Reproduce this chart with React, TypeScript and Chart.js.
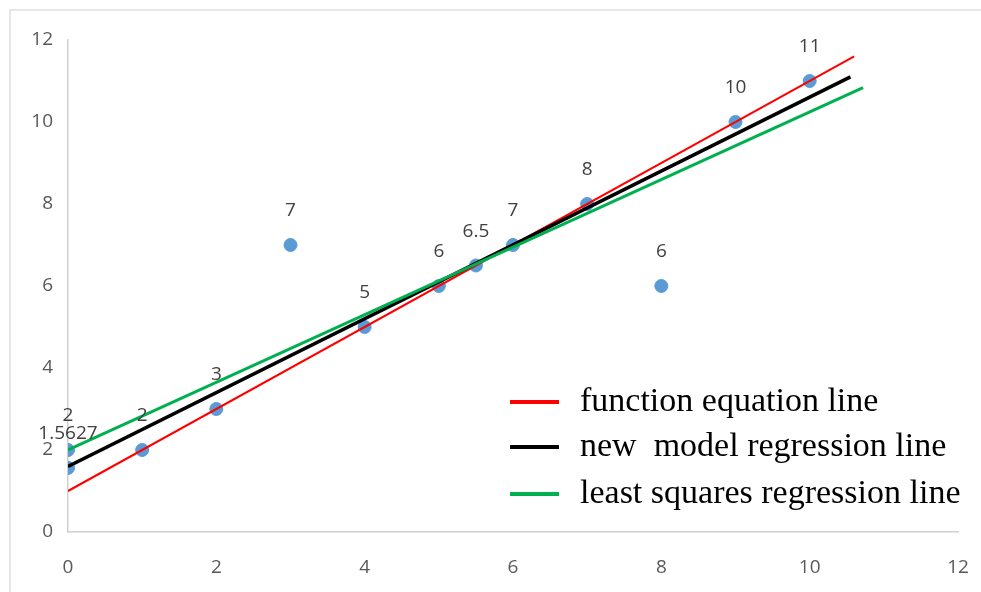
import React, { useEffect, useRef } from "react";
import { Chart, registerables } from "chart.js";

Chart.register(...registerables);

// ---- data ----
const pointX = [0, 0, 1, 2, 3, 4, 5, 5.5, 6, 7, 8, 9, 10];
const pointY = [2, 1.5627, 2, 3, 7, 5, 6, 6.5, 7, 8, 6, 10, 11];
const pointLabels = ["2", "1.5627", "2", "3", "7", "5", "6", "6.5", "7", "8", "6", "10", "11"];

const lineNames = ["function equation line", "new  model regression line", "least squares regression line"];
const redX = [0, 10.6];
const redY = [1.0, 11.6];
const blackX = [0, 10.55];
const blackY = [1.6, 11.1];
const greenX = [0, 10.72];
const greenY = [2.0, 10.84];

const xTicks = [0, 2, 4, 6, 8, 10, 12];
const yTicks = [0, 2, 4, 6, 8, 10, 12];

// ---- styles ----
const STYLE = {
  point: "#5B9BD5",
  red: "#FF0000",
  black: "#000000",
  green: "#00B050",
  tick: "#595959",
  label: "#404040",
  axis: "#D0D0D0",
};

const toPts = (xs: number[], ys: number[]) => xs.map((x, i) => ({ x, y: ys[i] }));

const dataLabelPlugin = {
  id: "dataLabels",
  afterDatasetsDraw(chart: any) {
    const meta = chart.getDatasetMeta(3);
    const ctx = chart.ctx;
    ctx.save();
    ctx.font = "19px 'Open Sans'";
    ctx.fillStyle = STYLE.label;
    ctx.textAlign = "center";
    ctx.textBaseline = "middle";
    meta.data.forEach((el: any, i: number) => {
      ctx.fillText(pointLabels[i], el.x, el.y - 34);
    });
    ctx.restore();
  },
};

const legendPlugin = {
  id: "customLegend",
  afterDraw(chart: any) {
    const ctx = chart.ctx;
    const colors = [STYLE.red, STYLE.black, STYLE.green];
    const x0 = 510;
    const rows = [402, 447, 494];
    ctx.save();
    ctx.font = "34px 'Liberation Serif'";
    ctx.fillStyle = "#000000";
    ctx.textAlign = "left";
    ctx.textBaseline = "middle";
    rows.forEach((y, i) => {
      ctx.strokeStyle = colors[i];
      ctx.lineWidth = 4;
      ctx.beginPath();
      ctx.moveTo(x0, y);
      ctx.lineTo(x0 + 49, y);
      ctx.stroke();
      ctx.fillText(lineNames[i], 580, y);
    });
    ctx.restore();
  },
};

export default function App() {
  const ref = useRef<HTMLCanvasElement>(null);
  useEffect(() => {
    if (!ref.current) return;
    const chart = new Chart(ref.current, {
      type: "scatter",
      data: {
        datasets: [
          {
            type: "line",
            label: lineNames[2],
            data: toPts(greenX, greenY),
            borderColor: STYLE.green,
            borderWidth: 3,
            pointRadius: 0,
            fill: false,
            order: 0,
          } as any,
          {
            type: "line",
            label: lineNames[1],
            data: toPts(blackX, blackY),
            borderColor: STYLE.black,
            borderWidth: 3.5,
            pointRadius: 0,
            fill: false,
            order: 1,
          } as any,
          {
            type: "line",
            label: lineNames[0],
            data: toPts(redX, redY),
            borderColor: STYLE.red,
            borderWidth: 2,
            pointRadius: 0,
            fill: false,
            order: 2,
          } as any,
          {
            label: "points",
            data: toPts(pointX, pointY),
            backgroundColor: STYLE.point,
            borderColor: STYLE.point,
            pointRadius: 6.5,
            order: 3,
          },
        ],
      },
      options: {
        responsive: false,
        animation: false,
        layout: { padding: { left: 0, top: 40, right: 23, bottom: 0 } },
        plugins: { legend: { display: false }, tooltip: { enabled: false } },
        scales: {
          x: {
            type: "linear",
            min: 0,
            max: 12,
            afterBuildTicks: (s: any) => {
              s.ticks = xTicks.map((v) => ({ value: v }));
            },
            afterFit: (s: any) => {
              s.height = 60;
              s.paddingLeft = 0;
              s.paddingRight = 0;
            },
            grid: { display: false, drawTicks: false },
            border: { display: true, color: STYLE.axis, width: 1.5 },
            ticks: { font: { family: "'Open Sans'", size: 19 }, color: STYLE.tick, padding: 24 },
          },
          y: {
            type: "linear",
            min: 0,
            max: 12,
            afterBuildTicks: (s: any) => {
              s.ticks = yTicks.map((v) => ({ value: v }));
            },
            afterFit: (s: any) => {
              s.width = 68;
              s.paddingTop = 0;
              s.paddingBottom = 0;
            },
            grid: { display: false, drawTicks: false },
            border: { display: true, color: STYLE.axis, width: 1.5 },
            ticks: { font: { family: "'Open Sans'", size: 19 }, color: STYLE.tick, padding: 15 },
          },
        },
      },
      plugins: [dataLabelPlugin, legendPlugin],
    });
    return () => chart.destroy();
  }, []);
  return (
    <div style={{ position: "fixed", left: 0, top: 0, width: 981, height: 592, background: "#fff" }}>
      <div
        style={{
          position: "absolute",
          left: 9,
          top: 9,
          right: 0,
          bottom: 0,
          borderTop: "2px solid #E6E6E6",
          borderLeft: "2px solid #E6E6E6",
        }}
      />
      <canvas ref={ref} width={981} height={592} style={{ position: "absolute", left: 0, top: 0 }} />
    </div>
  );
}
